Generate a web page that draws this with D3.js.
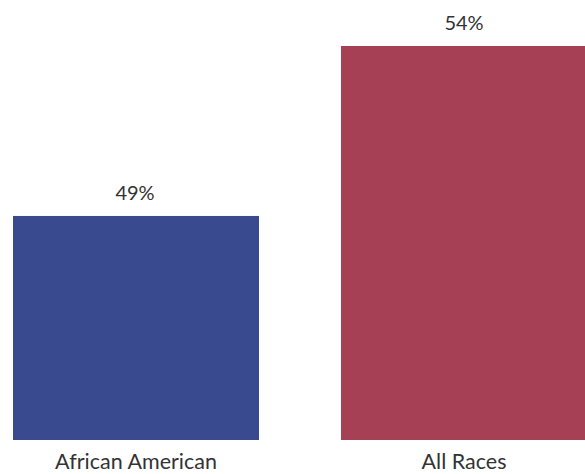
<!DOCTYPE html>
<html><head><meta charset="utf-8">
<script src="https://cdn.jsdelivr.net/npm/d3@7"></script>
<style>html,body{margin:0;padding:0;background:#fff;overflow:hidden}</style>
</head><body>
<svg id="c" width="585" height="474"></svg>
<script>
const categories = ["African American", "All Races"];
const values = [49, 54];
const valueLabels = ["49%", "54%"];
const colors = ["#3a4a8e", "#a54055"];

const svg = d3.select("#c");
const x = d3.scaleBand().domain(categories).range([13, 587]).paddingInner(0.25).paddingOuter(0);
const y = d3.scaleLinear().domain([42.41, 54]).range([440, 46]);

svg.selectAll("rect.bar").data(values).join("rect")
  .attr("class","bar")
  .attr("x",(d,i)=>x(categories[i]))
  .attr("width",x.bandwidth())
  .attr("y",d=>y(d))
  .attr("height",d=>y.range()[0]-y(d))
  .attr("fill",(d,i)=>colors[i]);

const font = "Lato, 'Open Sans', sans-serif";
svg.selectAll("text.val").data(values).join("text")
  .attr("class","val")
  .attr("x",(d,i)=>x(categories[i])+x.bandwidth()/2 - (i===0?1:0))
  .attr("y",d=>y(d)-16)
  .attr("text-anchor","middle")
  .attr("font-family",font).attr("font-size",20).attr("fill","#333")
  .text((d,i)=>valueLabels[i]);

const xAxis = d3.axisBottom(x).tickSize(0).tickPadding(0);
const g = svg.append("g").attr("transform","translate(0,469)").call(xAxis);
g.select(".domain").remove();
g.selectAll("text").attr("font-family",font).attr("font-size",21.5).attr("fill","#333")
  .attr("dy","0");
</script>
</body></html>
